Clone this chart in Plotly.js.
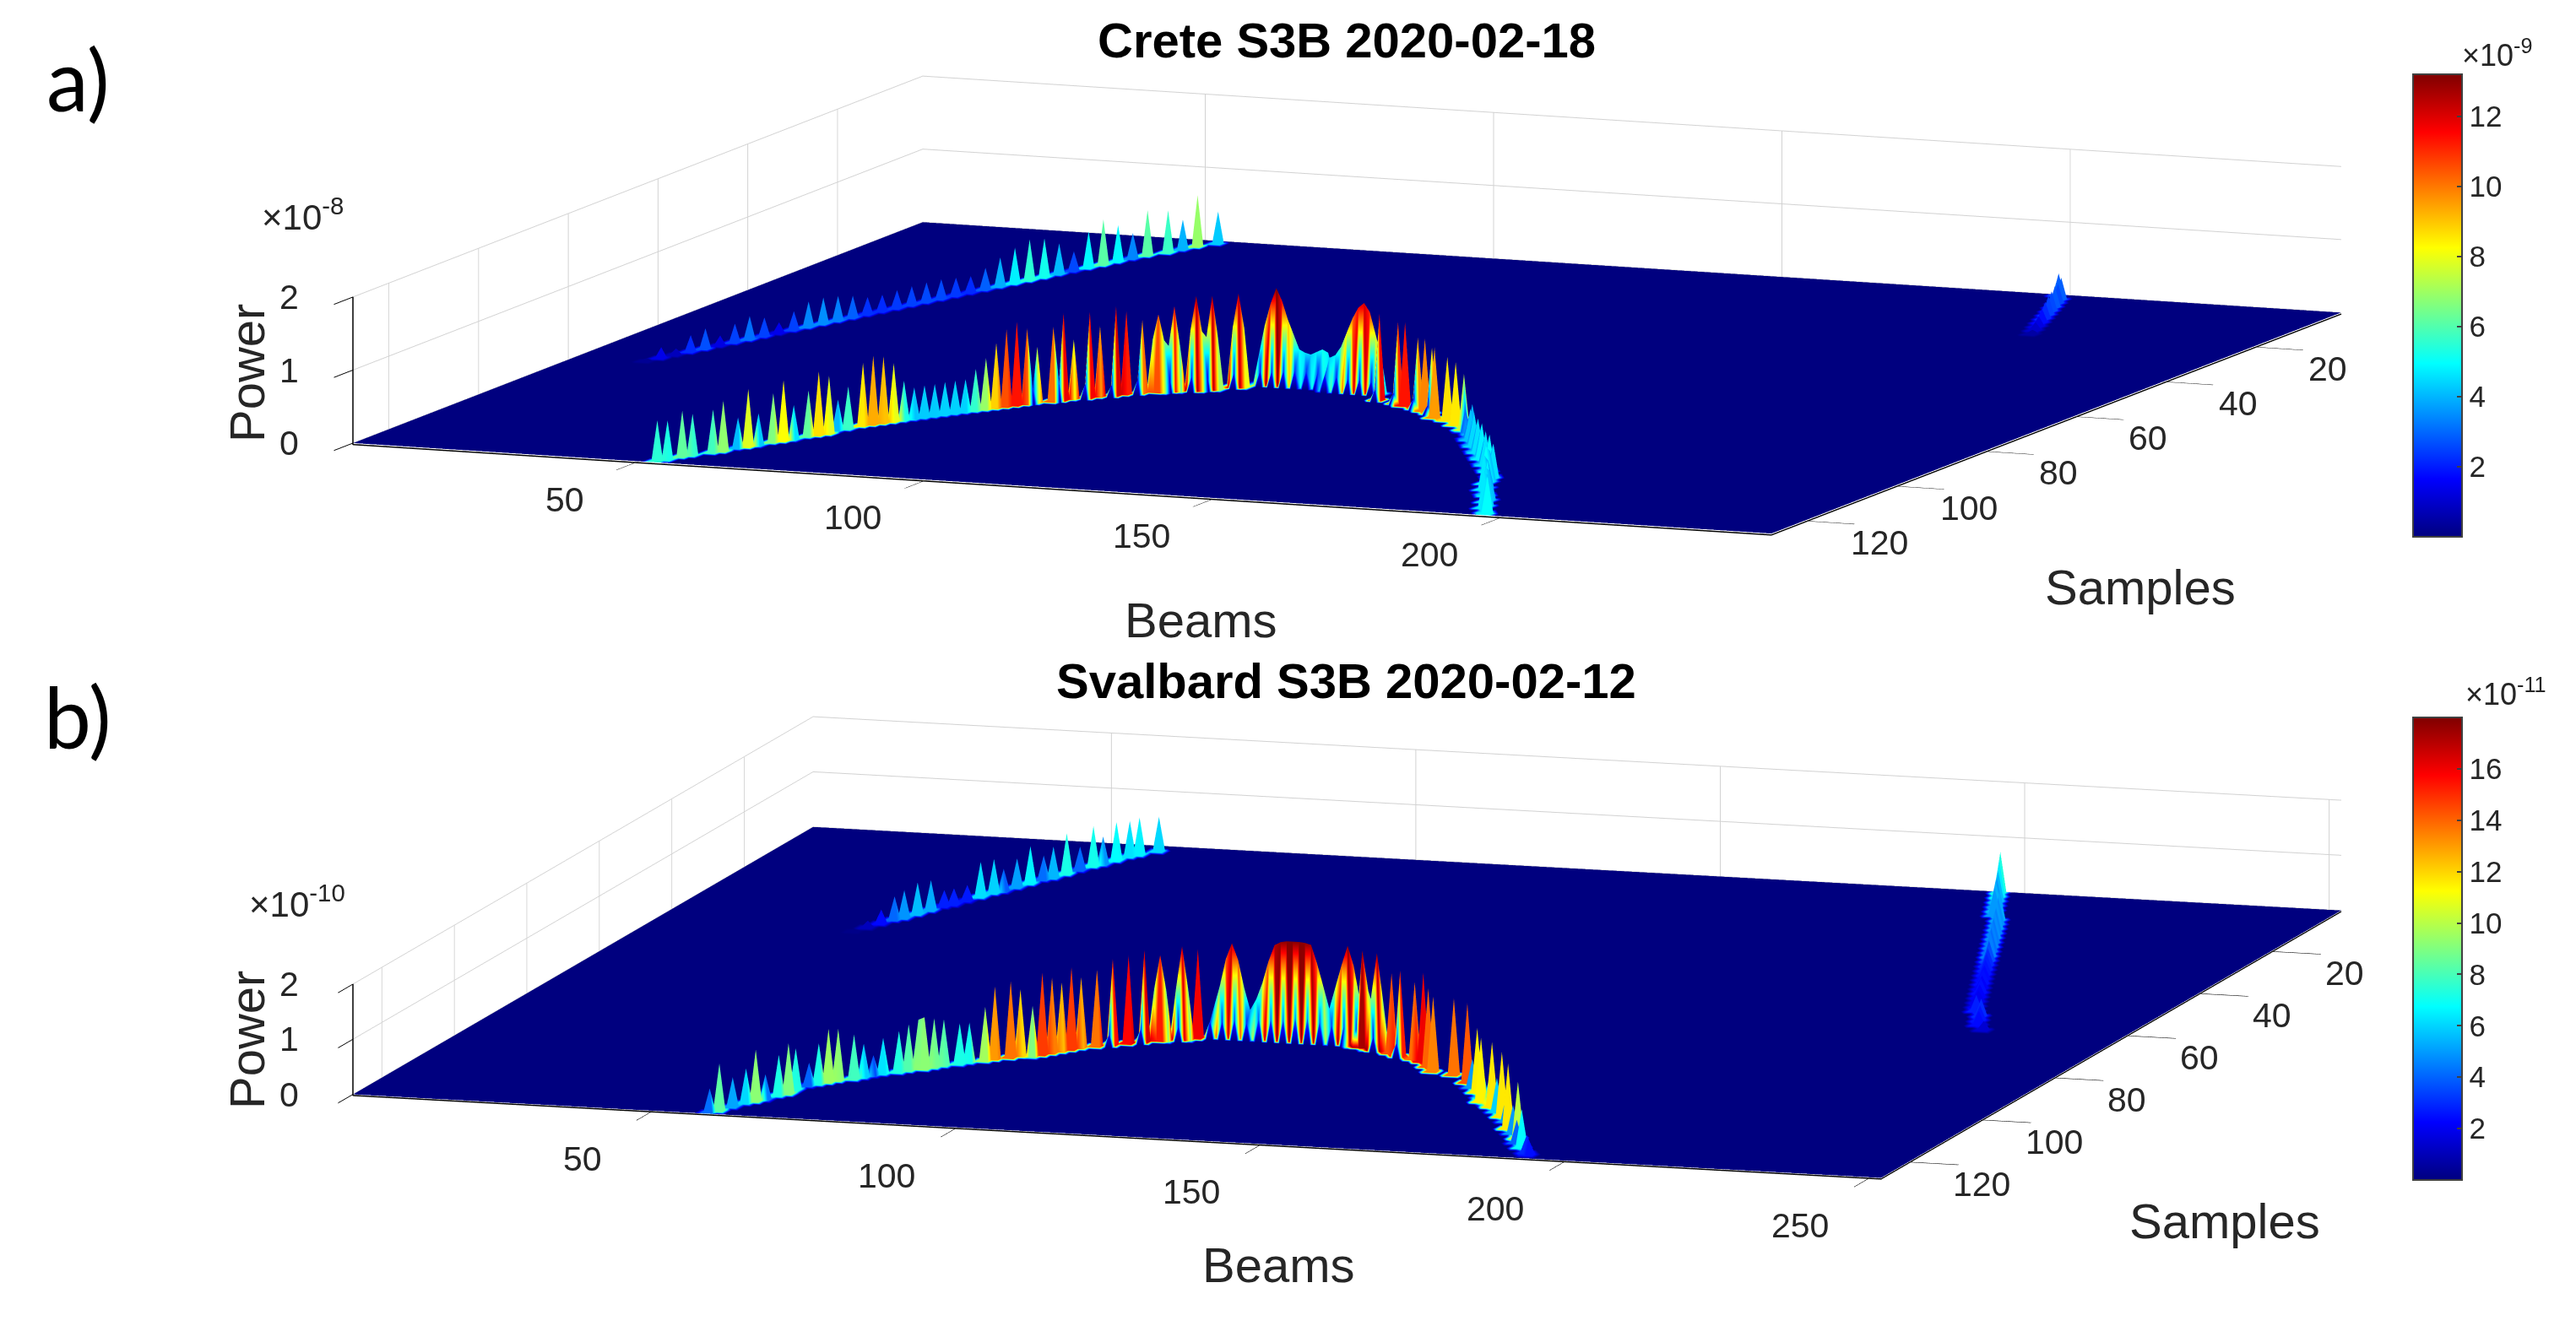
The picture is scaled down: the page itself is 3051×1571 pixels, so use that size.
<!DOCTYPE html>
<html>
<head>
<meta charset="utf-8">
<script src="https://cdn.plot.ly/plotly-3.0.1.min.js"></script>
<style>html,body{margin:0;padding:0;background:#fff}</style>
</head>
<body>
<div id="chart" style="width:3051px;height:1571px"></div>
<script>
// Crete, powers in units of 1e-9
const creteArcBeams = [53,54,55,56,58,59,60,61,62,63,64,65,66,67,68,68,69,70,71,72,73,74,75,76,77,78,79,80,81,82,83,84,85,86,87,89,90,91,93,94,96,97,99,101,103,106,108,111,137,141,143,146,148,150,152,155,158,161];
const creteArcSamples = [127,126,124,123,121,120,118,117,116,114,113,112,110,109,108,106,105,103,102,101,100,99,98,97,96,95,94,93,92,91,90,89,88,87,86,85,84,83,82,81,80,79,78,77,76,75,74,72,74,75,76,77,78,79,81,82,84,86];
const creteArcPower = [5.5,5.3,6.2,5.6,5.8,6.8,4.1,7.8,4.3,6.6,8.2,4.6,6.2,8.6,7.8,4.1,5.7,8.5,9.3,9.0,7.9,5.3,4.2,4.3,4.3,4.4,4.4,4.4,5.6,6.9,8.8,10.5,11.3,10.2,7.5,10.1,11.8,8.0,11.6,9.5,12.1,11.2,9.9,10.5,11.5,12.8,12.7,12.7,11.7,11.0,11.3,9.6,9.8,8.9,9.5,8.6,8.5,7.5];
const creteRidgeBeams = [113,114,115,116,117,118,119,120,121,122,123,124,125,126,127,128,129,130,131,132,133,134,135,100,102,102,104,105,107,107,109,110,112];
const creteRidgeSamples = [70,70,70,70,70,70,70,70,70,70,70,70,70,71,71,71,71,71,71,71,71,71,71,77,77,76,76,75,75,74,74,72,72];
const creteRidgePower = [4,8,11,13.2,11.5,9,7,5,4.6,4.4,4.8,5.2,4.8,4.4,4.8,6,8,10,11.5,12.2,11,8,5,7,7,6,6,8,8,7,7,8,8];
const creteTailBeams = [162,164,165,166,168,169,171,172,174,175,177,178,180,181,183,184,185,185,187,187,189,190,192,192,194,194,196,197];
const creteTailSamples = [87,88,90,91,93,94,96,97,99,100,102,103,105,106,108,109,111,112,114,115,117,118,120,121,123,124,126,127];
const creteTailPower = [3,4,3,4.2,3.5,4.5,3.6,4.6,3.8,4.8,3.5,4.6,4,5,3.8,4.6,4.1,5,3.6,4.7,4,4.8,3.9,4.6,4.2,4.7,4.5,5];
const creteLineBeams = [13,14,15,16,17,18,19,20,21,22,23,24,25,26,27,28,29,30,31,32,33,34,35,36,37,38,39,40,41,42,43,44,45,46,47,49,50,51,53];
const creteLineSamples = [78,76,74,72,70,68,66,64,62,60,58,56,54,52,50,48,46,44,42,40,38,36,34,32,30,28,26,24,22,20,18,16,14,12,10,8,6,4,2];
const creteLinePower = [0.3,1.4,0.8,2.2,2.7,1.3,2.5,3.1,2.5,1.4,2.5,3.4,3.5,3.3,2.9,2.3,2.2,2.4,2.5,2.6,2.6,2.4,2.2,2.9,3.9,4.8,5.5,5.2,4.1,2.6,4.9,6.1,4.9,3.4,6.1,5.7,4,6.9,4.3];
const creteEdgeBeams = [209,208,207,206,205,204,203,202,201,200,198];
const creteEdgeSamples = [21,19,17,15,13,11,9,7,5,3,1];
const creteEdgePower = [0.5,1,1.3,1.8,2.2,2.5,2.6,2.8,2.6,2.9,2.9];
const creteFootBeams = [87,90,93,96,99,103,106,108,111,114,116,118,120,122,124,126,128,130,132,134,137,141,146,150];
const creteFootSamples = [87,85,83,81,79,77,76,75,73,71,71,71,71,71,71,72,72,72,72,72,75,76,78,80];
const creteFootPower = [2,2.5,2,1.5,2,1.5,2,1.5,2,2,2,2.2,2.4,2.4,2.4,2.4,2.2,2,2,1.8,1.5,1.5,1.5,1.2];

// Svalbard, powers in units of 1e-11
const svalbardArcBeams = [59,60,61,62,63,64,65,66,66,67,68,69,70,72,73,74,75,77,78,79,80,81,82,84,85,87,88,90,91,93,94,95,96,97,98,100,102,104,106,108,111,113,140,143,146,148,151,153,155,157,161,165,167,169,171,172,174,175,177,179,181,183,185,187,188,190,192,193];
const svalbardArcSamples = [127,126,124,122,121,120,118,117,115,113,112,111,110,109,108,107,106,105,104,103,103,102,101,100,99,98,97,96,95,95,94,93,92,91,90,89,88,87,86,85,84,83,83,84,85,86,87,88,90,92,93,96,98,100,102,104,105,106,108,110,112,115,117,119,121,123,125,126];
const svalbardArcPower = [4.2,8.4,5.2,6.1,9.2,4.4,7.2,9,7.3,4,7.2,9.5,9.2,7.9,5.9,3.5,6.3,7.3,8.2,8.7,9.2,8.7,8.2,7.2,7,9.6,13,13.7,11.9,9,14.7,13.5,12.3,14.7,12.6,13.7,15.4,15.7,16.5,15.3,16.7,15.9,17.3,17.4,14.3,15.3,13.8,16,14,13.4,13.7,14.2,5,11.5,6,11.4,5,11.6,6,11.6,5,11.6,5,10.1,4,6.8,3,2.5];
const svalbardRidgeBeams = [115,116,117,118,119,120,121,122,123,124,125,126,127,128,129,130,131,132,133,134,135,136,137,138,139,107,109,110,112,139,141,142,144];
const svalbardRidgeSamples = [82,82,82,82,82,82,82,82,82,82,82,82,82,82,82,82,82,82,82,82,82,82,82,82,82,85,85,84,84,83,83,84,84];
const svalbardRidgePower = [5,9,14,16.9,14,9,5,7,10,14,17,17.6,17.8,17.8,17.8,17.7,17.4,14,10,6,10,14,17.6,14,8,9,9,9,9,10,10,9,9];
const svalbardLineBeams = [34,35,36,37,38,39,40,41,42,43,44,45,46,47,48,49,50,51,52,53,54,55,56,57,59];
const svalbardLineSamples = [45,43,41,39,38,36,34,32,31,29,27,25,24,22,20,18,17,15,13,11,10,8,6,5,3];
const svalbardLinePower = [0.2,1.1,2.4,4.1,4.9,5.6,5.3,2.8,2.8,2.7,6.2,6,3.9,5.1,6.6,4.2,5.5,7.2,4.1,7.1,4.9,6.8,6.3,6.6,6.1];
const svalbardEdgeBeams = [196,197,198,199,200,201,203,204,205,206,207,208,209,210,211,212,213,214,215,216,217,218,219,220,221,222,223,225,226,227,229];
const svalbardEdgeSamples = [1,3,5,7,9,11,13,15,17,19,21,23,25,27,29,31,33,35,37,39,41,43,45,47,49,51,53,55,57,59,61];
const svalbardEdgePower = [7.3,6.5,5.5,5,5.4,5,5.2,4.8,5,4.6,4.8,4.4,4.6,4.2,4.5,3.6,3,2.8,2.6,2.4,2.5,2.2,2.5,2.2,2,2.1,2.8,3,2.6,2.4,1.5];
const svalbardFootBeams = [102,106,111,115,117,119,121,123,125,127,129,131,133,135,137,139,143,148];
const svalbardFootSamples = [89,87,85,83,83,83,83,83,83,83,83,83,83,83,83,83,85,87];
const svalbardFootPower = [2,2.5,2.5,3,3,3.5,3,4,4,4,4.5,4.5,4,3.5,3.5,3,2.5,2.5];

const powerTicks = [2,4,6,8,10,12];
const svalbardPowerTicks = [2,4,6,8,10,12,14,16];
const beamTicks = [50,100,150,200];
const svalbardBeamTicks = [50,100,150,200,250];
const sampleTicks = [20,40,60,80,100,120];

const jet = [[0,'#00007f'],[0.125,'#0000ff'],[0.375,'#00ffff'],[0.625,'#ffff00'],[0.875,'#ff0000'],[1,'#7f0000']];
const textColor = '#262626';
const fontName = 'Liberation Sans';

function seq(n) {
  const out = [];
  for (let i = 1; i <= n; i++) out.push(i);
  return out;
}

function emptyGrid(beamCount, sampleCount) {
  const g = [];
  for (let s = 0; s < sampleCount; s++) g.push(new Array(beamCount).fill(0));
  return g;
}

// rows go from the last sample to the first so the quads split along the arc's other diagonal
function makeGrid(beamCount, sampleCount, groups) {
  const z = emptyGrid(beamCount, sampleCount);
  for (const [beams, samples, power] of groups) {
    beams.forEach(function(b, i) {
      z[sampleCount - samples[i]][b - 1] = power[i];
    });
  }
  return z;
}

// the original is flat shaded, a spike keeps its tip colour on the faces toward the viewer.
// surface only interpolates, so the vertices around the tip take the same colour
function makeColors(beamCount, sampleCount, groups) {
  const c = emptyGrid(beamCount, sampleCount);
  function lift(b, s, v) {
    if (b < 1 || b > beamCount || s < 1 || s > sampleCount) return;
    const row = c[sampleCount - s];
    row[b - 1] = Math.max(row[b - 1], v);
  }
  for (const [beams, samples, power] of groups) {
    beams.forEach(function(b, i) {
      lift(b - 1, samples[i], power[i]);
      lift(b + 1, samples[i], power[i]);
      lift(b - 1, samples[i] + 1, power[i]);
      lift(b, samples[i] + 1, power[i]);
      lift(b + 1, samples[i] + 1, power[i]);
    });
  }
  for (const [beams, samples, power] of groups) {
    beams.forEach(function(b, i) {
      c[sampleCount - samples[i]][b - 1] = power[i];
    });
  }
  return c;
}

function makeSurface(scene, beamCount, sampleCount, z, colors, cmax, ticks, barTop) {
  return {
    type: 'surface', scene: scene,
    x: seq(beamCount),
    // samples grow toward the viewer, so the axis runs on negated samples
    y: seq(sampleCount).reverse().map(function(s) { return -s; }),
    z: z,
    surfacecolor: colors,
    cmin: 0, cmax: cmax,
    colorscale: jet,
    hoverinfo: 'skip',
    lighting: {ambient: 1, diffuse: 0, specular: 0, roughness: 1, fresnel: 0},
    contours: {x: {show: false}, y: {show: false}, z: {show: false}},
    colorbar: {
      x: 2858 / 3051, xanchor: 'left', xpad: 0,
      y: 1 - barTop / 1571, yanchor: 'top', ypad: 0,
      thickness: 58, thicknessmode: 'pixels',
      len: 548, lenmode: 'pixels',
      outlinecolor: '#404040', outlinewidth: 2,
      ticks: 'inside', ticklen: 7, tickwidth: 2, tickcolor: '#404040',
      tickvals: ticks,
      tickfont: {family: fontName, size: 35, color: textColor}
    }
  };
}

function tickLabel(x, y, z, text, dx, dy) {
  return {x: x, y: y, z: z, text: text, showarrow: false, xshift: dx, yshift: dy,
    font: {family: fontName, size: 41, color: textColor}};
}

function makeScene(domainX, domainY, beamCount, sampleCount, aspect, eye, bTicks, beamShift) {
  const anns = [];
  for (const b of bTicks) anns.push(tickLabel(b, -sampleCount, 0, String(b), beamShift[0], beamShift[1]));
  for (const s of sampleTicks) anns.push(tickLabel(beamCount, -s, 0, String(s), 85, -27));
  ['0', '1', '2'].forEach(function(t, i) {
    anns.push(tickLabel(1, -sampleCount, i * 10, t, -76, 0));
  });
  const axisBase = {
    showbackground: false, showgrid: true, gridcolor: '#d2d2d2', gridwidth: 2,
    zeroline: false, showline: true, linecolor: '#000000', linewidth: 3,
    ticks: 'outside', ticklen: 60, tickcolor: '#000000', tickwidth: 2,
    showticklabels: false, showspikes: false, title: {text: ''}
  };
  return {
    domain: {x: domainX, y: domainY},
    aspectmode: 'manual', aspectratio: aspect,
    camera: {projection: {type: 'orthographic'}, up: {x: 0, y: 0, z: 1}, center: {x: 0, y: 0, z: 0}, eye: eye},
    xaxis: Object.assign({}, axisBase, {range: [1, beamCount], tickvals: bTicks}),
    yaxis: Object.assign({}, axisBase, {range: [-sampleCount, -1], tickvals: sampleTicks.map(function(s) { return -s; })}),
    zaxis: Object.assign({}, axisBase, {range: [-0.2, 20], tickvals: [0, 10, 20]}),
    annotations: anns
  };
}

function paperText(text, px, py, size, opts) {
  return Object.assign({
    xref: 'paper', yref: 'paper', x: px / 3051, y: 1 - py / 1571,
    xanchor: 'center', yanchor: 'middle', showarrow: false, text: text,
    font: {family: fontName, size: size, color: textColor}
  }, opts || {});
}

const creteGroups = [
  [creteLineBeams, creteLineSamples, creteLinePower],
  [creteEdgeBeams, creteEdgeSamples, creteEdgePower],
  [creteArcBeams, creteArcSamples, creteArcPower],
  [creteRidgeBeams, creteRidgeSamples, creteRidgePower],
  [creteTailBeams, creteTailSamples, creteTailPower]
];
const svalbardGroups = [
  [svalbardLineBeams, svalbardLineSamples, svalbardLinePower],
  [svalbardEdgeBeams, svalbardEdgeSamples, svalbardEdgePower],
  [svalbardArcBeams, svalbardArcSamples, svalbardArcPower],
  [svalbardRidgeBeams, svalbardRidgeSamples, svalbardRidgePower]
];
const creteFoot = [creteFootBeams, creteFootSamples, creteFootPower];
const svalbardFoot = [svalbardFootBeams, svalbardFootSamples, svalbardFootPower];

function withFoot(beamCount, sampleCount, groups, foot) {
  const z = makeGrid(beamCount, sampleCount, groups.concat([foot]));
  const c = makeColors(beamCount, sampleCount, groups);
  foot[0].forEach(function(b, i) {
    c[sampleCount - foot[1][i]][b - 1] = foot[2][i];
  });
  return [z, c];
}

const [creteZ, creteC] = withFoot(247, 128, creteGroups, creteFoot);
const [svalbardZ, svalbardC] = withFoot(252, 128, svalbardGroups, svalbardFoot);

const traces = [
  makeSurface('scene', 247, 128, creteZ, creteC, 13.2, powerTicks, 88),
  makeSurface('scene2', 252, 128, svalbardZ, svalbardC, 18, svalbardPowerTicks, 850)
];

const bold = {family: fontName, size: 58, color: '#000000'};
const letter = {family: 'Lato', size: 100, color: '#000000'};

const layout = {
  width: 3051, height: 1571,
  margin: {l: 0, r: 0, t: 0, b: 0},
  paper_bgcolor: '#ffffff',
  showlegend: false,
  scene: makeScene([0.046, 1], [0.539, 1], 247, 128, {x: 5.008, y: 4.961, z: 0.489},
    {x: 0.3711 * 8, y: -0.9152 * 8, z: 0.1573 * 8}, beamTicks, [-84, -45]),
  scene2: makeScene([0.046, 1], [0.0414, 0.529], 252, 128, {x: 4.943, y: 4.854, z: 0.350},
    {x: 0.2885 * 8, y: -0.9408 * 8, z: 0.1783 * 8}, svalbardBeamTicks, [-82, -57]),
  annotations: [
    paperText('<b>Crete S3B 2020-02-18</b>', 1595, 48, 58, {font: bold}),
    paperText('<b>Svalbard S3B 2020-02-12</b>', 1595, 806, 58, {font: bold}),
    paperText('a)', 92, 93, 100, {font: letter}),
    paperText('b)', 92, 848, 100, {font: letter}),
    paperText('Beams', 1422, 734, 58),
    paperText('Beams', 1514, 1498, 58),
    paperText('Samples', 2535, 695, 58),
    paperText('Samples', 2635, 1446, 58),
    paperText('Power', 292, 442, 58, {textangle: -90}),
    paperText('Power', 292, 1232, 58, {textangle: -90}),
    paperText('×10<sup>-8</sup>', 358, 254, 42),
    paperText('×10<sup>-10</sup>', 352, 1068, 42),
    paperText('×10<sup>-9</sup>', 2957, 63, 36),
    paperText('×10<sup>-11</sup>', 2968, 820, 36)
  ]
};

Plotly.newPlot('chart', traces, layout, {displayModeBar: false});
</script>
</body>
</html>
